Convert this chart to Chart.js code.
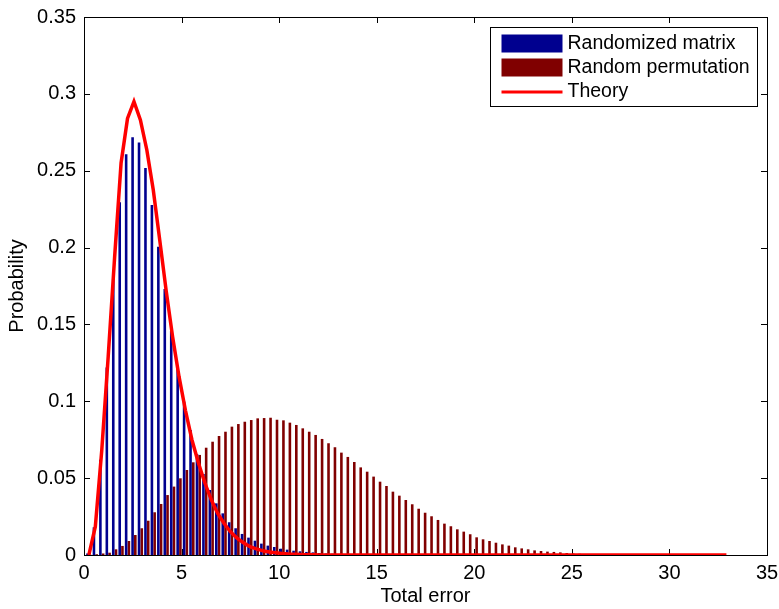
<!DOCTYPE html>
<html>
<head>
<meta charset="utf-8">
<script src="https://cdn.jsdelivr.net/npm/chart.js@4.4.1/dist/chart.umd.min.js"></script>
<style>
  body { margin: 0; background: #fff; }
  #wrap { width: 779px; height: 609px; }
</style>
</head>
<body>
<div id="wrap"><canvas id="errChart" width="779" height="609"></canvas></div>
<script>
// histogram bins: 100 bins of width 0.33 starting at 0.25
var binStart = 0.25;
var binWidth = 0.33;
var binCount = 100;

var seriesNames = ['Randomized matrix', 'Random permutation', 'Theory'];

var randomizedMatrix = [
  0.001, 0.018, 0.062, 0.122, 0.1796, 0.2295, 0.2607, 0.2718, 0.2683, 0.2518,
  0.2277, 0.2006, 0.173, 0.146, 0.1215, 0.0998, 0.0813, 0.0656, 0.0527, 0.0423,
  0.0336, 0.0271, 0.0213, 0.0174, 0.0137, 0.0113, 0.0093, 0.0074, 0.0061, 0.0052,
  0.0041, 0.0035, 0.0028, 0.0024, 0.002, 0.0017, 0.0013, 0.001, 0.0008, 0.0006,
  0.0005, 0.0004, 0.0003, 0.0002, 0.0002, 0.0001, 0, 0, 0, 0,
  0, 0, 0, 0, 0, 0, 0, 0, 0, 0,
  0, 0, 0, 0, 0, 0, 0, 0, 0, 0,
  0, 0, 0, 0, 0, 0, 0, 0, 0, 0,
  0, 0, 0, 0, 0, 0, 0, 0, 0, 0,
  0, 0, 0, 0, 0, 0, 0, 0, 0, 0
];

var randomPermutation = [
  0.0002, 0.0005, 0.001, 0.0015, 0.0037, 0.0059, 0.0091, 0.013, 0.0174, 0.0223,
  0.0278, 0.0332, 0.039, 0.0445, 0.0499, 0.0553, 0.0603, 0.0651, 0.0698, 0.0737,
  0.0774, 0.0802, 0.0835, 0.0852, 0.0867, 0.0878, 0.0889, 0.0891, 0.0893, 0.088,
  0.0876, 0.0861, 0.0846, 0.0824, 0.0802, 0.0781, 0.0755, 0.0727, 0.0701, 0.0666,
  0.0638, 0.0605, 0.057, 0.0542, 0.051, 0.0477, 0.0449, 0.0412, 0.0386, 0.0358,
  0.033, 0.0301, 0.0275, 0.0252, 0.0228, 0.0204, 0.0187, 0.0167, 0.0152, 0.0135,
  0.0115, 0.0102, 0.0091, 0.008, 0.0069, 0.0061, 0.005, 0.0043, 0.0037, 0.003,
  0.0026, 0.0022, 0.002, 0.0017, 0.0013, 0.001, 0.0008, 0.0006, 0.0005, 0.0004,
  0.0003, 0.0002, 0.0002, 0.0001, 0.0001, 0, 0, 0, 0, 0,
  0, 0, 0, 0, 0, 0, 0, 0, 0, 0
];

var theory = [
  0, 0.0184, 0.068, 0.129, 0.194, 0.255, 0.284, 0.295, 0.283, 0.2635,
  0.2375, 0.205, 0.172, 0.142, 0.116, 0.094, 0.075, 0.06, 0.047, 0.036,
  0.027, 0.0205, 0.015, 0.011, 0.008, 0.0055, 0.004, 0.0028, 0.002, 0.0015,
  0.001, 0.0007, 0.0005, 0.0003, 0.0002, 0.0001, 0, 0, 0, 0,
  0, 0, 0, 0, 0, 0, 0, 0, 0, 0,
  0, 0, 0, 0, 0, 0, 0, 0, 0, 0,
  0, 0, 0, 0, 0, 0, 0, 0, 0, 0,
  0, 0, 0, 0, 0, 0, 0, 0, 0, 0,
  0, 0, 0, 0, 0, 0, 0, 0, 0, 0,
  0, 0, 0, 0, 0, 0, 0, 0, 0, 0
];

var xTicks = [0, 5, 10, 15, 20, 25, 30, 35];
var yTicks = [0, 0.05, 0.1, 0.15, 0.2, 0.25, 0.3, 0.35];

var binCenters = [];
for (var i = 0; i < binCount; i++) {
    binCenters.push(+(binStart + i * binWidth).toFixed(4));
}

function toPoints(values) {
    return values.map(function (v, i) { return { x: binCenters[i], y: v }; });
}

var FONT = "'Liberation Sans', Arial, Helvetica, sans-serif";
var colors = ['#00008f', '#800000', '#ff0000'];

// matlab-like axes box with inward ticks
var axesBox = {
    id: 'axesBox',
    beforeDatasetsDraw: function (chart) {
        var ctx = chart.ctx, a = chart.chartArea;
        var xs = chart.scales.x, ys = chart.scales.y;
        ctx.save();
        ctx.strokeStyle = '#000';
        ctx.lineWidth = 1;
        ctx.beginPath();
        xTicks.forEach(function (t) {
            var px = Math.round(xs.getPixelForValue(t)) + 0.5;
            ctx.moveTo(px, a.bottom); ctx.lineTo(px, a.bottom - 6);
            ctx.moveTo(px, a.top); ctx.lineTo(px, a.top + 6);
        });
        yTicks.forEach(function (t) {
            var py = Math.round(ys.getPixelForValue(t)) + 0.5;
            ctx.moveTo(a.left, py); ctx.lineTo(a.left + 6, py);
            ctx.moveTo(a.right, py); ctx.lineTo(a.right - 6, py);
        });
        ctx.stroke();
        ctx.strokeRect(Math.round(a.left) + 0.5, Math.round(a.top) + 0.5,
                       Math.round(a.right - a.left), Math.round(a.bottom - a.top));
        ctx.restore();
    }
};

// legend box inside the plot, top right
var insideLegend = {
    id: 'insideLegend',
    afterDraw: function (chart) {
        var ctx = chart.ctx, a = chart.chartArea;
        var bx = Math.round(a.right) - 276.5, by = Math.round(a.top) + 10.5;
        var bw = 267, bh = 79;
        ctx.save();
        ctx.fillStyle = '#fff';
        ctx.fillRect(bx, by, bw, bh);
        ctx.strokeStyle = '#000';
        ctx.lineWidth = 1;
        ctx.strokeRect(bx, by, bw, bh);
        ctx.font = '19.5px ' + FONT;
        ctx.textBaseline = 'middle';
        ctx.fillStyle = colors[0];
        ctx.fillRect(bx + 11, by + 7, 61, 18);
        ctx.fillStyle = colors[1];
        ctx.fillRect(bx + 11, by + 31, 61, 18);
        ctx.strokeStyle = colors[2];
        ctx.lineWidth = 3;
        ctx.beginPath();
        ctx.moveTo(bx + 11, by + 64.5);
        ctx.lineTo(bx + 72, by + 64.5);
        ctx.stroke();
        ctx.fillStyle = '#000';
        ctx.fillText(seriesNames[0], bx + 77, by + 16);
        ctx.fillText(seriesNames[1], bx + 77, by + 40);
        ctx.fillText(seriesNames[2], bx + 77, by + 64);
        ctx.restore();
    }
};

var ctx = document.getElementById('errChart').getContext('2d');
var errChart = new Chart(ctx, {
    type: 'bar',
    data: {
        datasets: [{
            label: seriesNames[0],
            data: toPoints(randomizedMatrix),
            backgroundColor: colors[0],
            categoryPercentage: 0.85,
            barPercentage: 0.95
        }, {
            label: seriesNames[1],
            data: toPoints(randomPermutation),
            backgroundColor: colors[1],
            categoryPercentage: 0.85,
            barPercentage: 0.95
        }, {
            type: 'line',
            label: seriesNames[2],
            data: toPoints(theory),
            borderColor: colors[2],
            borderWidth: 3.5,
            pointRadius: 0,
            tension: 0,
            fill: false,
            order: -1
        }]
    },
    options: {
        responsive: false,
        animation: false,
        layout: { padding: { left: 0, right: 12, top: 17, bottom: 0 } },
        plugins: {
            legend: { display: false },
            tooltip: { enabled: false }
        },
        scales: {
            x: {
                type: 'linear',
                min: 0,
                max: 35,
                offset: false,
                grid: { display: false, drawTicks: false },
                border: { display: false },
                afterBuildTicks: function (scale) {
                    scale.ticks = xTicks.map(function (v) { return { value: v }; });
                },
                afterFit: function (scale) {
                    scale.height = 54;
                    scale.paddingLeft = 0;
                    scale.paddingRight = 0;
                },
                ticks: { color: '#000', padding: 6, font: { family: FONT, size: 20 } },
                title: {
                    display: true, text: 'Total error', color: '#000',
                    padding: { top: 0, bottom: 1 },
                    font: { family: FONT, size: 20 }
                }
            },
            y: {
                min: 0,
                max: 0.35,
                grid: { display: false, drawTicks: false },
                border: { display: false },
                afterBuildTicks: function (scale) {
                    scale.ticks = yTicks.map(function (v) { return { value: v }; });
                },
                afterFit: function (scale) {
                    scale.width = 84;
                    scale.paddingTop = 0;
                    scale.paddingBottom = 0;
                },
                ticks: {
                    color: '#000', padding: 8, font: { family: FONT, size: 20 },
                    callback: function (v) { return String(+v.toFixed(2)); }
                },
                title: {
                    display: true, text: 'Probability', color: '#000',
                    padding: { top: 5, bottom: 0 },
                    font: { family: FONT, size: 20 }
                }
            }
        }
    },
    plugins: [axesBox, insideLegend]
});
</script>
</body>
</html>
